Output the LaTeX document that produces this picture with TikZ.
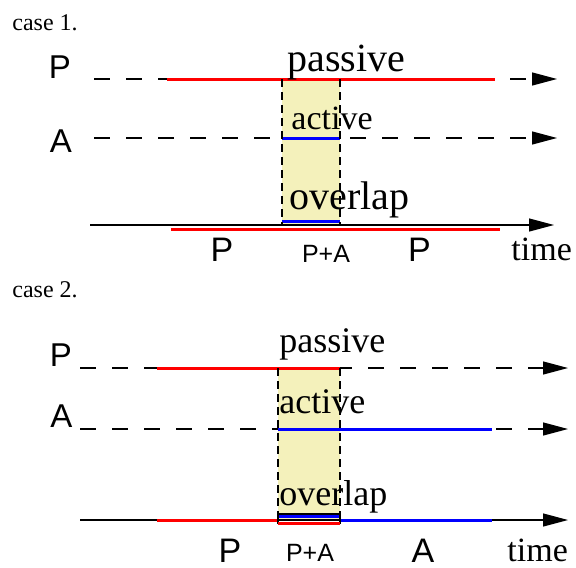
\documentclass[tikz,border=0pt]{standalone}
\usepackage{fontspec}
\setmainfont{Liberation Serif}
\setsansfont{Liberation Sans}
\usetikzlibrary{arrows.meta}
\definecolor{overlapfill}{RGB}{244,241,187}
\definecolor{passivered}{RGB}{255,0,0}
\definecolor{activeblue}{RGB}{0,0,255}
\tikzset{
  every node/.style={inner sep=0pt},
  timeline/.style={line width=0.6pt,-{Triangle[length=12.5pt,width=6.5pt]}},
  idle/.style={timeline,dash pattern=on 8pt off 8pt},
  busy/.style={line width=1.5pt},
  edge/.style={line width=0.6pt,dash pattern=on 4pt off 2.5pt},
  casetxt/.style={anchor=base west,font=\fontsize{12}{12}\selectfont},
  word/.style={anchor=base west,font=\fontsize{#1}{#1}\selectfont},
  mode/.style={font=\sffamily\fontsize{#1}{#1}\selectfont}
}
\begin{document}
\begin{tikzpicture}[x=0.5pt,y=-0.5pt]
\useasboundingbox (0,0) rectangle (576,567);
% case 1
\node[casetxt] (c1) at (12,31) {case 1.};
\fill[overlapfill] (282,79) rectangle (340,225);
\draw[idle] (94,79) -- (557,79);
\draw[idle] (94,138) -- (557,138);
\draw[timeline] (90,225) -- (554,225);
\draw[busy,passivered] (167,79) -- (495,79);
\draw[busy,activeblue] (282,138) -- (340,138);
\draw[busy,activeblue] (282,221) -- (340,221);
\draw[busy,passivered] (171,229) -- (500,229);
\draw[edge] (282,79) -- (282,225);
\draw[edge] (340,79) -- (340,225);
\node[mode=16.5] (p1) at (60,67) {P};
\node[mode=16.5] (a1) at (61,141) {A};
\node[word=20] (pas1) at (287,71) {passive};
\node[word=17] (act1) at (291,129) {active};
\node[word=20] (ovl1) at (289,209) {overlap};
\node[word=17] (t1) at (511,260) {time};
\node[mode=17] (b1p) at (222,250) {P};
\node[mode=12.5] (b1pa) at (326,253.5) {P+A};
\node[mode=17] (b1q) at (419.5,250) {P};
% case 2
\node[casetxt] (c2) at (12,297) {case 2.};
\fill[overlapfill] (278,368) rectangle (340,520);
\draw[idle] (80,368) -- (568,368);
\draw[idle] (80,429) -- (568,429);
\draw[timeline] (80,520) -- (568,520);
\draw[busy,passivered] (157,368) -- (340,368);
\draw[busy,activeblue] (278,429) -- (492,429);
\draw[busy,passivered] (157,520) -- (278,520);
\draw[busy,activeblue] (340,520) -- (492,520);
\draw[line width=0.6pt] (278,514) rectangle (340,523);
\draw[busy,activeblue] (278,516) -- (340,516);
\draw[busy,passivered] (278,523) -- (340,523);
\draw[edge] (278,368) -- (278,520);
\draw[edge] (340,368) -- (340,520);
\node[mode=16.5] (p2) at (61,355) {P};
\node[mode=16.5] (a2) at (61.5,416) {A};
\node[word=18] (pas2) at (279,352) {passive};
\node[word=18] (act2) at (279,413) {active};
\node[word=18] (ovl2) at (279,505) {overlap};
\node[word=17] (t2) at (507,561) {time};
\node[mode=17] (b2p) at (230,551) {P};
\node[mode=12.5] (b2pa) at (310,553) {P+A};
\node[mode=17] (b2a) at (423,551) {A};
\end{tikzpicture}
\end{document}
